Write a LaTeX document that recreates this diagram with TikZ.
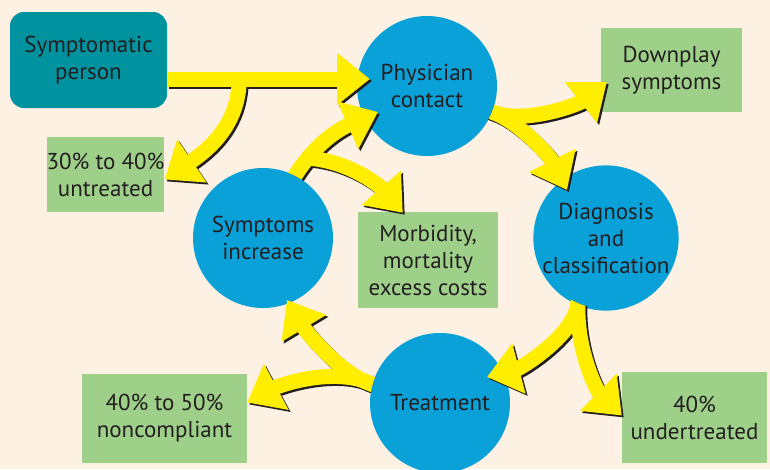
\documentclass[tikz,border=0pt]{standalone}
\usepackage{fontspec}
\setmainfont{PT Sans}
\usetikzlibrary{arrows.meta,calc}
\definecolor{bg}{HTML}{FDF1E3}
\definecolor{tealbox}{HTML}{00929E}
\definecolor{bluestage}{HTML}{0AA0D8}
\definecolor{greenbox}{HTML}{9FD08A}
\definecolor{yel}{HTML}{FFEE00}
\definecolor{txt}{HTML}{231F20}
\newcommand{\flowset}[1]{%
  \draw[#1] ($(sym.east)+(0,19)$) -- ($(phys.center)+(-57,-7)$);
  \draw[#1] (br1) .. controls (239,125) and (208,150) .. ($(untr.east)+(0,5)$);
  \begin{scope}[even odd rule]
    \clip (-10,-10) rectangle (780,480) (symi.center) circle[radius=70];
    \draw[#1] ($(symi.center)+(20,-40)$) .. controls (305,150) and (337,130) .. ($(phys.center)+(-49,26)$);
    \draw[#1] (br2) .. controls (345,160) and (377,183) .. ($(morb.north west)+(45,1)$);
  \end{scope}
  \begin{scope}[even odd rule]
    \clip (-10,-10) rectangle (780,480) (phys.center) circle[radius=70];
    \draw[#1] ($(phys.center)+(45,18)$) -- (492,112) .. controls (525,125) and (579,104) .. ($(down.west)+(6,12)$);
    \draw[#1] ($(phys.center)+(45,18)$) -- (492,112) .. controls (520,122) and (551,158) .. ($(diag.center)+(-39,-48)$);
  \end{scope}
  \begin{scope}[even odd rule]
    \clip (-10,-10) rectangle (780,480) (diag.center) circle[radius=71];
    \draw[#1] ($(diag.center)+(-25,45)$) -- (578,303) .. controls (575,335) and (521,368) .. ($(treat.center)+(47,-26)$);
    \draw[#1] ($(diag.center)+(-25,45)$) -- (578,303) .. controls (576,350) and (597,391) .. ($(under.west)+(0,-2)$);
  \end{scope}
  \begin{scope}[even odd rule]
    \clip (-10,-10) rectangle (780,480) (treat.center) circle[radius=70];
    \draw[#1] ($(treat.center)+(-45,-10)$) -- (374,385) .. controls (340,375) and (305,330) .. ($(symi.center)+(24,62)$);
    \draw[#1] ($(treat.center)+(-45,-10)$) -- (374,385) .. controls (335,365) and (278,386) .. ($(nonc.east)+(0,-16)$);
  \end{scope}
}
\begin{document}
\begin{tikzpicture}[x=1pt,y=-1pt,
  every node/.style={font=\fontsize{23}{27}\selectfont, text=txt, align=center, inner sep=0pt},
  personbox/.style={rectangle, rounded corners=14pt, fill=tealbox, minimum width=157pt, minimum height=96pt},
  stage/.style={circle, fill=bluestage, minimum size=140pt},
  outcome/.style={rectangle, fill=greenbox},
  flowshade/.style={line width=15pt, draw=txt, -{Triangle[width=50pt,length=33pt]}, transform canvas={xshift=2pt,yshift=-2pt}},
  flow/.style={line width=15pt, draw=yel, -{Triangle[width=50pt,length=33pt]}}
]
\fill[bg] (0,0) rectangle (770,469);
\useasboundingbox (0,0) rectangle (770,469);
\node[personbox] (sym) at (88.5,60) {Symptomatic\\person};
\node[stage] (phys) at (427,86) {Physician\\contact};
\node[stage] (diag) at (606,238) {Diagnosis\\and\\classification};
\node[stage] (treat) at (440,403) {Treatment};
\node[stage] (symi) at (263,238) {Symptoms\\increase};
\node[outcome, minimum width=141pt, minimum height=84pt] (down) at (671.5,70) {Downplay\\symptoms};
\node[outcome, minimum width=117pt, minimum height=75pt] (untr) at (105.5,174.5) {30\% to 40\%\\untreated};
\node[outcome, minimum width=140pt, minimum height=96pt] (morb) at (428,260) {Morbidity,\\mortality\\excess costs};
\node[outcome, minimum width=165pt, minimum height=89pt] (nonc) at (164.5,418.5) {40\% to 50\%\\noncompliant};
\node[outcome, minimum width=145pt, minimum height=91pt] (under) at (694.5,417.5) {40\%\\undertreated};
\coordinate (br1) at ($(sym.east)+(72,19)$);
\coordinate (br2) at (306,158);
\flowset{flowshade}
\flowset{flow}
\end{tikzpicture}
\end{document}
